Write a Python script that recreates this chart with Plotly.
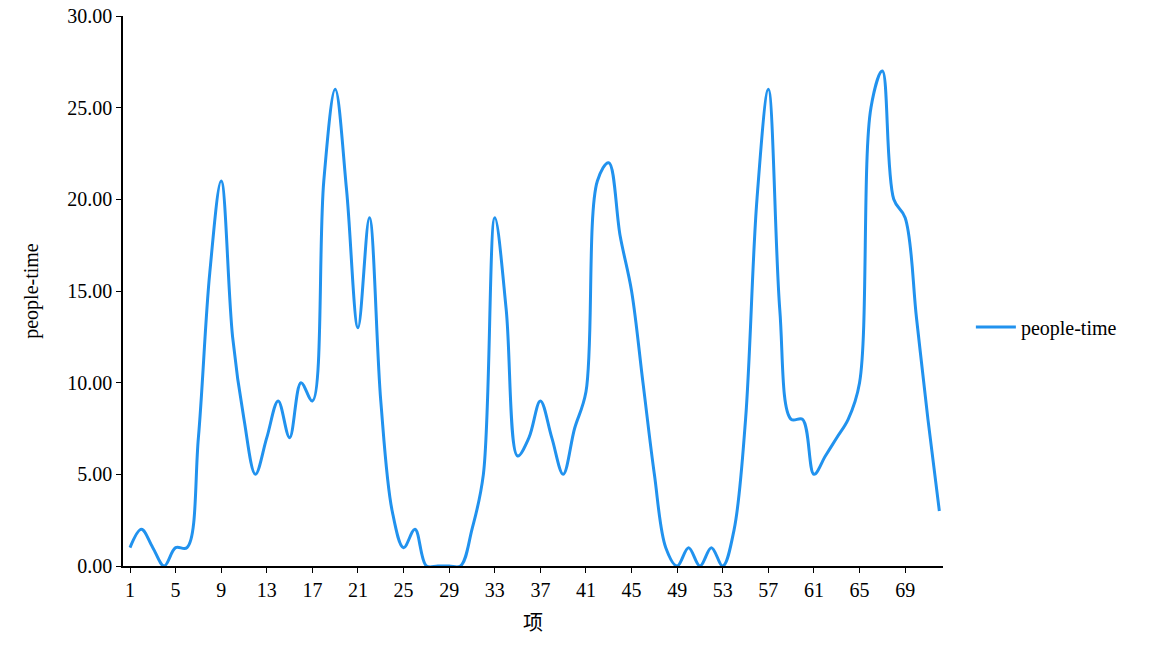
import plotly.graph_objects as go

x_items = list(range(1, 73))
people_time = [
    1, 2, 1, 0, 1, 1, 7, 16, 21, 12.5,
    8, 5, 7, 9, 7, 10, 9, 21, 26, 20.5,
    13, 19, 9, 3, 1, 2, 0, 0, 0, 0,
    2, 5, 19, 14, 6, 7, 9, 7, 5, 7.5,
    9.5, 21, 22, 18, 15, 10, 5, 1, 0, 1,
    0, 1, 0, 2, 8, 20, 26, 14, 8, 8,
    5, 6, 7, 8, 10, 25, 27, 20, 19, 13.5,
    8, 3,
]
x_tick_vals = list(range(1, 73, 4))
y_tick_vals = [0, 5, 10, 15, 20, 25, 30]

font_family = "Liberation Serif, Noto Sans CJK SC, serif"

fig = go.Figure()
fig.add_trace(go.Scatter(
    x=x_items, y=people_time, mode="lines", name="people-time",
    line=dict(color="#2192EE", width=3, shape="spline", smoothing=1.0),
))

fig.update_layout(
    width=1149, height=657,
    margin=dict(l=123, r=206, t=16, b=91),
    paper_bgcolor="white", plot_bgcolor="white",
    font=dict(family=font_family, size=20, color="#000000"),
    showlegend=True,
    legend=dict(x=1.034, y=0.4345, xanchor="left", yanchor="middle",
                itemwidth=40,
                font=dict(size=20), bgcolor="rgba(0,0,0,0)"),
    xaxis=dict(
        range=[0.386, 72.32], tickmode="array", tickvals=x_tick_vals,
        ticktext=[str(v) for v in x_tick_vals],
        showgrid=False, zeroline=False, showline=True, linecolor="#000000",
        linewidth=1.5, ticks="outside", ticklen=5, tickcolor="#000000",
        automargin=False,
        title=dict(text="项", standoff=16, font=dict(size=20)),
    ),
    yaxis=dict(
        range=[0, 30], tickmode="array", tickvals=y_tick_vals,
        tickformat=".2f",
        showgrid=False, zeroline=False, showline=True, linecolor="#000000",
        linewidth=1.5, ticks="outside", ticklen=5, tickcolor="#000000",
        automargin=False,
        title=dict(text="people-time", standoff=23, font=dict(size=20)),
    ),
)

fig.write_html("out.html", config={"displayModeBar": False},
               post_script="document.body.style.margin='0px';")
